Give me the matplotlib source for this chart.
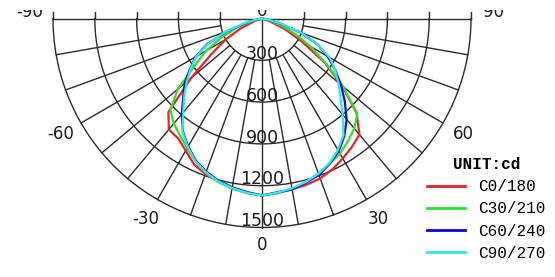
import numpy as np
import matplotlib.pyplot as plt

# polar angles (deg from nadir) and intensities (cd), left / right half of each C-plane pair
angles = [0, 5, 10, 15, 20, 25, 30, 35, 40, 45, 50, 55, 60, 65, 70, 75, 80, 85, 90]

c0_180_left = [1270, 1255, 1232, 1210, 1188, 1155, 1095, 1050, 1040, 950, 665, 440, 300, 170, 60, 10, 0, 0, 0]
c0_180_right = [1270, 1258, 1245, 1235, 1222, 1195, 1160, 1125, 1088, 960, 750, 545, 330, 180, 60, 10, 0, 0, 0]
c30_210_left = [1270, 1258, 1240, 1215, 1180, 1130, 1075, 1025, 985, 930, 790, 590, 460, 320, 190, 75, 15, 0, 0]
c30_210_right = [1270, 1258, 1240, 1215, 1185, 1150, 1120, 1075, 1030, 968, 760, 560, 400, 260, 150, 55, 10, 0, 0]
c60_240_left = [1270, 1250, 1230, 1205, 1170, 1125, 1060, 990, 895, 800, 725, 630, 550, 430, 270, 110, 25, 0, 0]
c60_240_right = [1270, 1252, 1245, 1220, 1195, 1150, 1100, 1030, 945, 840, 740, 640, 545, 440, 295, 130, 30, 0, 0]
c90_270_left = [1270, 1255, 1235, 1210, 1175, 1130, 1065, 995, 880, 790, 705, 625, 545, 420, 280, 130, 35, 0, 0]
c90_270_right = [1270, 1255, 1238, 1215, 1185, 1145, 1090, 1020, 900, 795, 715, 640, 560, 440, 300, 140, 40, 0, 0]

series = [
    ("C0/180", c0_180_left, c0_180_right, "#e8242a"),
    ("C30/210", c30_210_left, c30_210_right, "#2ee02e"),
    ("C60/240", c60_240_left, c60_240_right, "#0a0ad0"),
    ("C90/270", c90_270_left, c90_270_right, "#33e6ee"),
]

rings = [300, 600, 900, 1200, 1500]
spokes = [-80, -70, -60, -50, -40, -30, -20, -10, 10, 20, 30, 40, 50, 60, 70, 80]
angle_labels = [-90, -60, -30, 0, 30, 60, 90]

W, H = 555, 277
cx, cy = 262, 18.5          # pole position in pixels (from top-left)
k = 209 / 1500              # pixels per cd
top_cut = 10

fig = plt.figure(figsize=(W / 100, H / 100), dpi=100)
ax = fig.add_axes([0, 0, 1, (H - top_cut) / H])
ax.set_xlim(-cx / k, (W - cx) / k)
ax.set_ylim(-(H - cy) / k, (cy - top_cut) / k)
ax.axis("off")


def xy(theta_deg, r):
    t = np.radians(theta_deg)
    return np.asarray(r) * np.sin(t), -np.asarray(r) * np.cos(t)


grid_kw = dict(color="#2a2a2a", lw=1.0, zorder=1)

# arcs
t = np.linspace(-90, 90, 361)
for r in rings:
    ax.plot(*xy(t, r), **grid_kw)
    for s in (-1, 1):
        ax.plot([s * r, s * r], [0, 45], **grid_kw)

# spokes
for a in spokes:
    ax.plot(*xy(np.array([a, a]), [rings[0], rings[-1]]), **grid_kw)
ax.plot([0, 0], [0, -rings[-1]], **grid_kw)
ax.plot([-rings[-1], rings[-1]], [0, 0], **grid_kw)

# ring labels
for r in rings:
    ax.text(0, -r + 45, str(r), ha="center", va="center", fontsize=12.5,
            color="#1a1a1a", zorder=3)

# angle labels
r_lab = 1665
for a in angle_labels:
    if abs(a) == 90:
        x, y = np.sign(a) * r_lab, 50
    elif a == 0:
        x, y = 0, -1625
    else:
        x, y = xy(a, r_lab)
    ax.text(x, y, str(a), ha="center", va="center", fontsize=12,
            color="#1a1a1a", clip_on=True)
ax.text(0, 55, "0", ha="center", va="center", fontsize=12, color="#1a1a1a", clip_on=True)

# curves
ang = np.array(angles)
for name, left, right, col in series:
    th = np.concatenate([-ang[::-1], ang[1:]])
    r = np.concatenate([np.array(left)[::-1], np.array(right)[1:]])
    ax.plot(*xy(th, r), color=col, lw=1.6, label=name, zorder=2)

leg = ax.legend(loc="upper left", bbox_to_anchor=(427 / W, 1 - 157 / H),
                bbox_transform=fig.transFigure, frameon=False, borderpad=0,
                borderaxespad=0, title="UNIT:cd", handlelength=2.4,
                handletextpad=0.8, labelspacing=0.45,
                prop=dict(family="Liberation Mono", size=11.5),
                title_fontproperties=dict(family="Liberation Mono", size=11.5, weight="bold"))
for line in leg.get_lines():
    line.set_linewidth(2)

fig.savefig("out.png", dpi=100, facecolor="white")
